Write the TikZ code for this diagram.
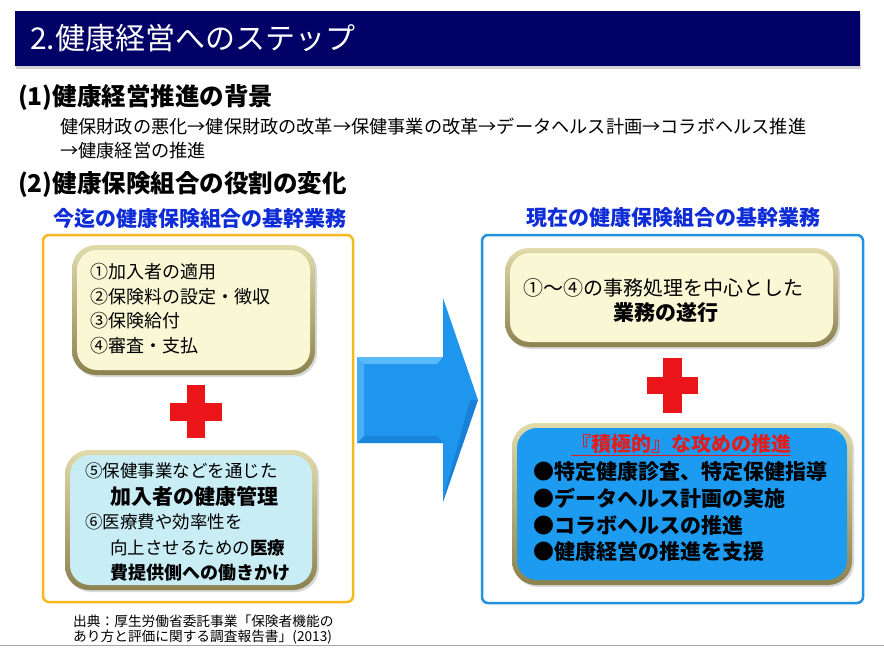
\documentclass[tikz,border=0pt]{standalone}
\usepackage{fontspec}
\setmainfont{Noto Sans CJK JP}
\usetikzlibrary{shadows}
\definecolor{navy}{RGB}{0,0,102}
\definecolor{lblblue}{RGB}{15,45,215}
\definecolor{orangeb}{RGB}{245,185,30}
\definecolor{blueb}{RGB}{35,145,225}
\definecolor{arrowblue}{RGB}{30,150,238}
\definecolor{arrowlight}{RGB}{90,185,248}
\definecolor{arrowdark}{RGB}{20,115,200}
\definecolor{cream}{RGB}{250,247,213}
\definecolor{cyanfill}{RGB}{200,237,245}
\definecolor{box4fill}{RGB}{28,155,240}
\definecolor{bevlight}{RGB}{225,218,170}
\definecolor{bevdark}{RGB}{140,130,80}
\definecolor{crossred}{RGB}{235,20,25}
\definecolor{titlered}{RGB}{225,30,30}
\newcommand{\fs}[1]{\fontsize{#1}{#1}\selectfont}
\begin{document}
\begin{tikzpicture}[x=1pt,y=-1pt,
  txt/.style={anchor=west,inner sep=0pt},
  outerbox/.style={inner sep=0pt,line width=2.5pt,rounded corners=6pt,fill=white},
  bevel/.style={inner sep=0pt,rounded corners=24pt,top color=bevlight,bottom color=bevdark,
     drop shadow={opacity=0.3,shadow xshift=2pt,shadow yshift=-2pt}},
  face/.style={inner sep=0pt,rounded corners=20pt}
]
\useasboundingbox[fill=white] (0,0) rectangle (884,650);
% title bar
\node[inner sep=0pt,fill=navy,minimum width=845pt,minimum height=55pt,anchor=north west,
  drop shadow={opacity=0.35,shadow xshift=1pt,shadow yshift=-3pt}] (titlebar) at (15,11) {};
\node[txt,text=white,font=\fs{30}] (title) at (30,38) {2.健康経営へのステップ};
% headings
\node[txt,font=\fs{24.5}\bfseries] (h1) at (18,97) {(1)健康経営推進の背景};
\node[txt,font=\fs{18.2}] (l1) at (60,127) {健保財政の悪化→健保財政の改革→保健事業の改革→データヘルス計画→コラボヘルス推進};
\node[txt,font=\fs{18.2}] (l2) at (60,151) {→健康経営の推進};
\node[txt,font=\fs{24.5}\bfseries] (h2) at (18,185) {(2)健康保険組合の役割の変化};
\node[inner sep=0pt,font=\fs{21}\bfseries,text=lblblue] (labL) at (200,218) {今迄の健康保険組合の基幹業務};
\node[inner sep=0pt,font=\fs{21}\bfseries,text=lblblue] (labR) at (673,218) {現在の健康保険組合の基幹業務};
% outer boxes
\node[outerbox,draw=orangeb,minimum width=310pt,minimum height=367pt] (leftbox) at (198,418.5) {};
\node[outerbox,draw=blueb,minimum width=381pt,minimum height=368pt] (rightbox) at (672.5,419) {};
% arrow
\path[fill=arrowblue] (357,357) -- (443,357) -- (443,298) -- (478,400) -- (443,502) -- (443,443) -- (357,443) -- cycle;
\path[fill=arrowlight] (357,357) -- (443,357) -- (437,364) -- (364,364) -- cycle;
\path[fill=arrowlight,opacity=0.7] (357,357) -- (364,364) -- (364,436) -- (357,443) -- cycle;
\path[fill=arrowdark,opacity=0.6] (478,400) -- (443,502) -- (446,488) -- (470,400) -- cycle;
\path[fill=arrowdark,opacity=0.5] (357,443) -- (443,443) -- (437,436) -- (364,436) -- cycle;
% box 1
\node[bevel,minimum width=243pt,minimum height=130pt] (b1o) at (193.5,310) {};
\node[face,fill=cream,minimum width=233pt,minimum height=120pt] (b1) at (193.5,310) {};
\node[txt,font=\fs{18}] (t11) at (90,272) {①加入者の適用};
\node[txt,font=\fs{18}] (t12) at (90,297) {②保険料の設定・徴収};
\node[txt,font=\fs{18}] (t13) at (90,321) {③保険給付};
\node[txt,font=\fs{18}] (t14) at (90,346) {④審査・支払};
% cross left
\path[fill=crossred] (187,385) rectangle (205,438);
\path[fill=crossred] (170,402.5) rectangle (222,420.5);
% box 2
\node[bevel,minimum width=252pt,minimum height=140pt] (b2o) at (191,520) {};
\node[face,fill=cyanfill,minimum width=242pt,minimum height=130pt] (b2) at (191,520) {};
\node[txt,font=\fs{17.5}] (t21) at (85,471) {⑤保健事業などを通じた};
\node[txt,font=\fs{21}\bfseries] (t22) at (110,496) {加入者の健康管理};
\node[txt,font=\fs{17.5}] (t23) at (85,522) {⑥医療費や効率性を};
\node[txt,font=\fs{17.5}] (t24) at (110,548) {向上させるための\textbf{医療}};
\node[txt,font=\fs{18}\bfseries] (t25) at (110,573) {費提供側への働きかけ};
% citation
\node[txt,font=\fs{13.7}] (c1) at (73,621) {出典：厚生労働省委託事業「保険者機能の};
\node[txt,font=\fs{13.7}] (c2) at (73,637) {あり方と評価に関する調査報告書」(2013)};
% box 3
\node[bevel,minimum width=333pt,minimum height=99pt] (b3o) at (671.5,297.5) {};
\node[face,fill=cream,minimum width=323pt,minimum height=89pt] (b3) at (671.5,297.5) {};
\node[txt,font=\fs{20}] (t31) at (523,288) {①～④の事務処理を中心とした};
\node[txt,font=\fs{21}\bfseries] (t32) at (613,313) {業務の遂行};
% cross right
\path[fill=crossred] (663,358) rectangle (682,413);
\path[fill=crossred] (647,377) rectangle (698,394);
% box 4
\node[bevel,minimum width=340pt,minimum height=162pt] (b4o) at (682,504) {};
\node[face,fill=box4fill,minimum width=330pt,minimum height=152pt] (b4) at (682,504) {};
\node[inner sep=0pt,font=\fs{20}\bfseries,text=titlered] (t40) at (681,445) {\underline{『積極的』な攻めの推進}};
\node[txt,font=\fs{21}\bfseries] (t41) at (533,472) {●特定健康診査、特定保健指導};
\node[txt,font=\fs{21}\bfseries] (t42) at (533,498) {●データヘルス計画の実施};
\node[txt,font=\fs{21}\bfseries] (t43) at (533,525) {●コラボヘルスの推進};
\node[txt,font=\fs{21}\bfseries] (t44) at (533,552) {●健康経営の推進を支援};
% bottom rule
\draw[gray!70,line width=1pt] (0,645) -- (884,645);
\end{tikzpicture}
\end{document}
